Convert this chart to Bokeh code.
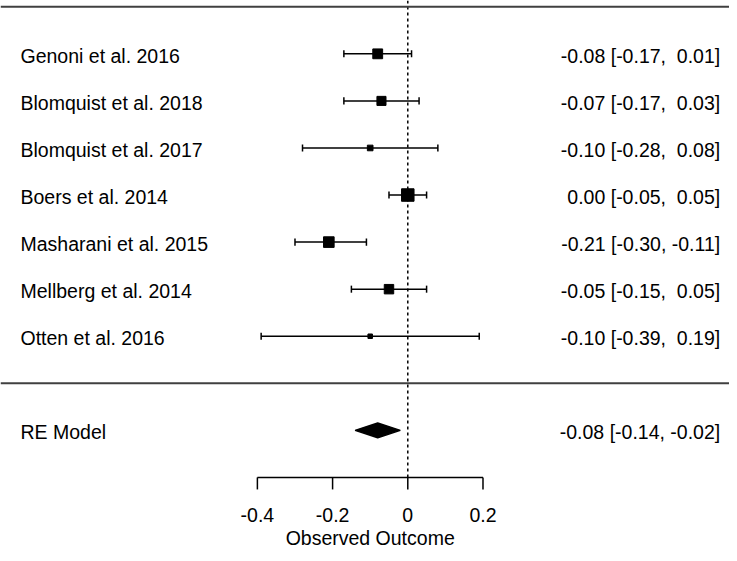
from bokeh.plotting import figure
from bokeh.models import Range1d, Span, ColumnDataSource
from bokeh.core.properties import value
from bokeh.embed import file_html
from bokeh.resources import INLINE

# ---- data ----
studies = ["Genoni et al. 2016", "Blomquist et al. 2018", "Blomquist et al. 2017",
           "Boers et al. 2014", "Masharani et al. 2015", "Mellberg et al. 2014",
           "Otten et al. 2016"]
estimate = [-0.08, -0.07, -0.10, 0.00, -0.21, -0.05, -0.10]
ci_lower = [-0.17, -0.17, -0.28, -0.05, -0.30, -0.15, -0.39]
ci_upper = [0.01, 0.03, 0.08, 0.05, -0.11, 0.05, 0.19]
weight = [17, 15, 6, 24, 19, 16, 3]  # relative study weights (%)

re_label = "RE Model"
re_estimate = -0.08
re_lower = -0.14
re_upper = -0.02

tick_values = [-0.4, -0.2, 0, 0.2]
tick_labels = ["-0.4", "-0.2", "0", "0.2"]
x_label = "Observed Outcome"

# ---- layout helpers ----
FONT = "Liberation Sans"
FSIZE = "19.5px"
NB = "\u00a0"
k = len(studies)
rows = list(range(k, 0, -1))
re_row = -1
axis_row = -2
PX_ROW = 47.07

def fmt(v):
    s = f"{v:.2f}"
    return s if v < 0 else NB + s

def annot(e, lo, hi):
    return f"{fmt(e).lstrip(NB)} [{f'{lo:.2f}'}, {fmt(hi)}]"

annots = [annot(e, lo, hi) for e, lo, hi in zip(estimate, ci_lower, ci_upper)]
re_annot = annot(re_estimate, re_lower, re_upper)

wmin, wmax = min(weight), max(weight)
sizes = [4.5 + (w - wmin) / (wmax - wmin) * 8 for w in weight]

W, H = 729, 553
x0, x1 = -1.0832, 0.8556
y0, y1 = -3.616, 8.133

p = figure(width=W, height=H, output_backend="svg", toolbar_location=None,
           x_range=Range1d(x0, x1), y_range=Range1d(y0, y1),
           x_axis_location=None, y_axis_location=None,
           min_border=0)
p.grid.visible = False
p.outline_line_color = None
p.background_fill_color = "white"
p.border_fill_color = "white"

# horizontal rules
p.add_layout(Span(location=k + 1, dimension="width", line_color="#404040", line_width=2))
p.add_layout(Span(location=0, dimension="width", line_color="#404040", line_width=2))

# reference line at 0
p.segment(x0=[0], y0=[axis_row], x1=[0], y1=[y1], line_color="black",
          line_width=1.5, line_dash="3 3")

src = ColumnDataSource(dict(study=studies, est=estimate, lo=ci_lower, hi=ci_upper,
                            row=rows, size=sizes, annot=annots,
                            cap_lo=[r - 0.075 for r in rows], cap_hi=[r + 0.075 for r in rows]))

p.segment(x0="lo", y0="row", x1="hi", y1="row", source=src, line_color="black", line_width=1.5)
p.segment(x0="lo", y0="cap_lo", x1="lo", y1="cap_hi", source=src, line_color="black", line_width=1.5)
p.segment(x0="hi", y0="cap_lo", x1="hi", y1="cap_hi", source=src, line_color="black", line_width=1.5)
p.scatter(x="est", y="row", size="size", marker="square", source=src,
          fill_color="black", line_color="black")

# RE diamond
h = 0.155
p.patch(x=[re_lower, re_estimate, re_upper, re_estimate],
        y=[re_row, re_row + h, re_row, re_row - h],
        fill_color="black", line_color="black", line_width=1.5)

# texts
txt = dict(text_font=value(FONT), text_font_size=FSIZE, text_color="black",
           text_baseline="middle")
p.text(x=x0, y="row", text="study", source=src, x_offset=20, y_offset=2,
       text_align="left", **txt)
p.text(x=x1, y="row", text="annot", source=src, x_offset=-9.3, y_offset=2,
       text_align="right", **txt)
p.text(x=[x0], y=[re_row], text=[re_label], x_offset=20, y_offset=2,
       text_align="left", **txt)
p.text(x=[x1], y=[re_row], text=[re_annot], x_offset=-9.3, y_offset=2,
       text_align="right", **txt)

# x axis (drawn with the plot's own scales)
tmin, tmax = min(tick_values), max(tick_values)
tick_len = 12 / PX_ROW
p.segment(x0=[tmin], y0=[axis_row], x1=[tmax], y1=[axis_row], line_color="black", line_width=1.5)
p.segment(x0=tick_values, y0=[axis_row] * len(tick_values), x1=tick_values,
          y1=[axis_row - tick_len] * len(tick_values), line_color="black", line_width=1.5)
p.text(x=tick_values, y=[axis_row] * len(tick_values), text=tick_labels, y_offset=38,
       text_align="center", **txt)
p.text(x=[(tmin + tmax) / 2], y=[axis_row], text=[x_label], y_offset=61,
       text_align="center", **txt)

open("out.html", "w").write(file_html(p, INLINE))
